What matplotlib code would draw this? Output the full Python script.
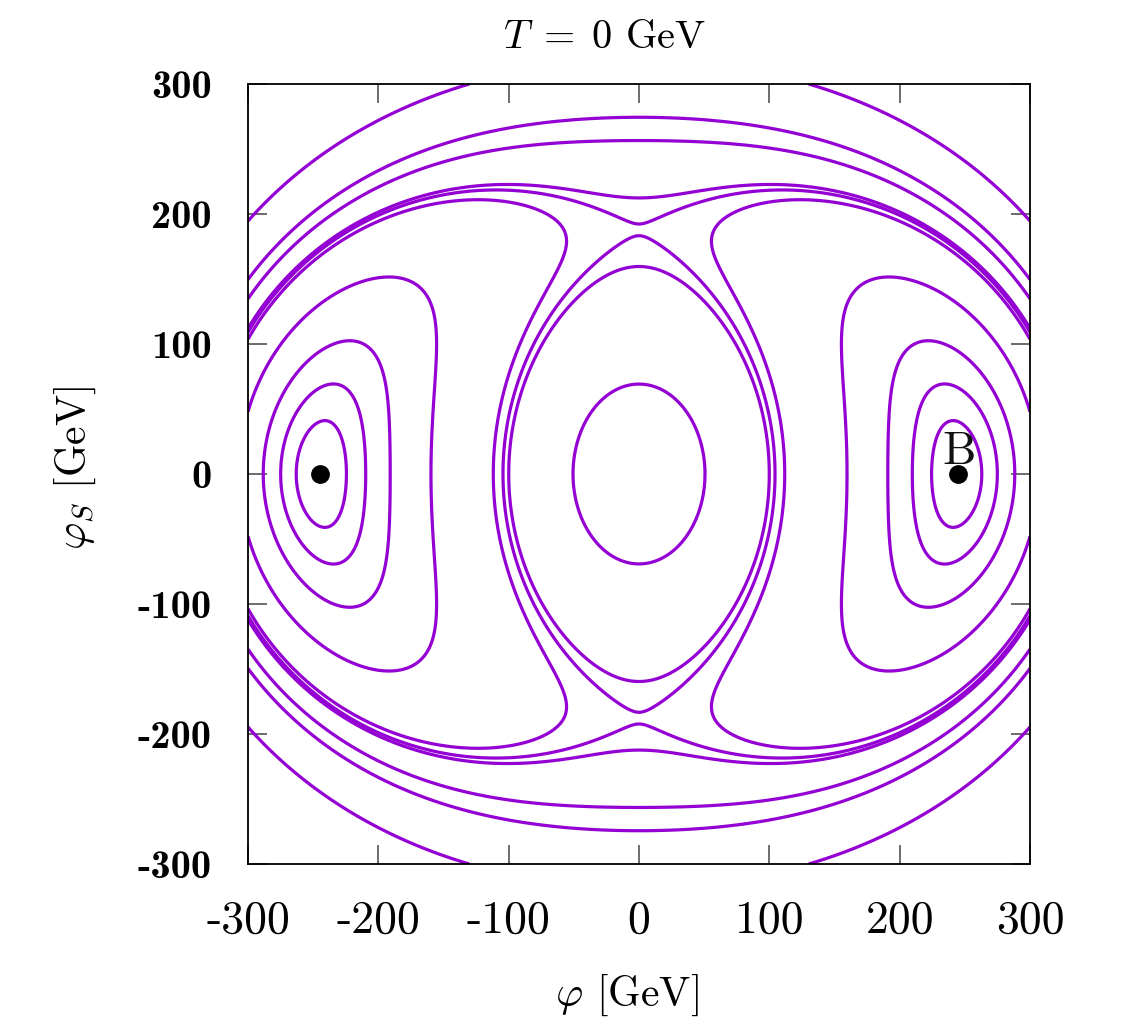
import numpy as np
import matplotlib
matplotlib.use("Agg")
import matplotlib.pyplot as plt

plt.rcParams["mathtext.fontset"] = "cm"
plt.rcParams["axes.unicode_minus"] = False

# ---- potential parameters (tree-level, T = 0) ----
vev_h = 244.5      # GeV, Higgs-direction minimum
vev_s = 187.85     # GeV, singlet-direction stationary point
lam_h = 0.129
lam_s = 0.1229
lam_hs = 0.258

# contour levels of V - V(0,0) in GeV^4
contour_levels = [-1.1241e8, -1.0719e8, -9.7686e7, -7.7300e7, -4.3156e7,
                  -3.8171e7, -3.5300e7, -9.670e6, 1.0921e7, 9.600e7]

# marked minima
min_phi = [-244.5, 244.5]
min_s = [0.0, 0.0]
label_phi = 246.0
label_s = 8.0
label_text = "B"

tick_vals = [-300, -200, -100, 0, 100, 200, 300]
tick_labels = ["-300", "-200", "-100", "0", "100", "200", "300"]

line_color = "#9400d3"

W, H = 1123, 1027
fig = plt.figure(figsize=(W / 100, H / 100), dpi=100)
ax = fig.add_axes([248 / W, 1 - 864 / H, (1030 - 248) / W, (864 - 84) / H])

phi = np.linspace(-300, 300, 1201)
s = np.linspace(-300, 300, 1201)
P, S = np.meshgrid(phi, s)
V = (-0.5 * lam_h * vev_h**2 * P**2 + 0.25 * lam_h * P**4
     - 0.5 * lam_s * vev_s**2 * S**2 + 0.25 * lam_s * S**4
     + 0.25 * lam_hs * P**2 * S**2)

ax.contour(P, S, V, levels=contour_levels, colors=line_color,
           linewidths=2.3, linestyles="solid")

ax.plot(min_phi, min_s, "o", color="black", ms=12.5, zorder=5)
ax.text(label_phi, label_s, label_text, family="cmr10", fontsize=34,
        ha="center", va="baseline", color="#111111", zorder=6)

ax.set_xlim(-300, 300)
ax.set_ylim(-300, 300)
ax.set_xticks(tick_vals)
ax.set_yticks(tick_vals)
ax.set_xticklabels(tick_labels)
ax.set_yticklabels(tick_labels)
for lbl in ax.get_xticklabels():
    lbl.set_fontfamily("cmr10")
    lbl.set_fontsize(33)
for lbl in ax.get_yticklabels():
    lbl.set_fontfamily("cmb10")
    lbl.set_fontsize(29)
ax.tick_params(direction="in", top=True, right=True, length=14, width=1.1,
               color="#444444")
ax.tick_params(axis="x", pad=26)
ax.tick_params(axis="y", pad=26)
for sp in ax.spines.values():
    sp.set_linewidth(1.3)
    sp.set_color("black")

fig.text(604 / W, 1 - 38 / H, r"$T\;=\;0$ GeV", family="cmr10", fontsize=29,
         ha="center", va="center")
fig.text(627 / W, 1 - 995 / H, r"$\varphi$ [GeV]", family="cmr10", fontsize=30,
         ha="center", va="center")
fig.text(75 / W, 1 - 468 / H, r"$\varphi_S$ [GeV]", family="cmr10", fontsize=30,
         ha="center", va="center", rotation=90)

fig.savefig("out.png", dpi=100)
